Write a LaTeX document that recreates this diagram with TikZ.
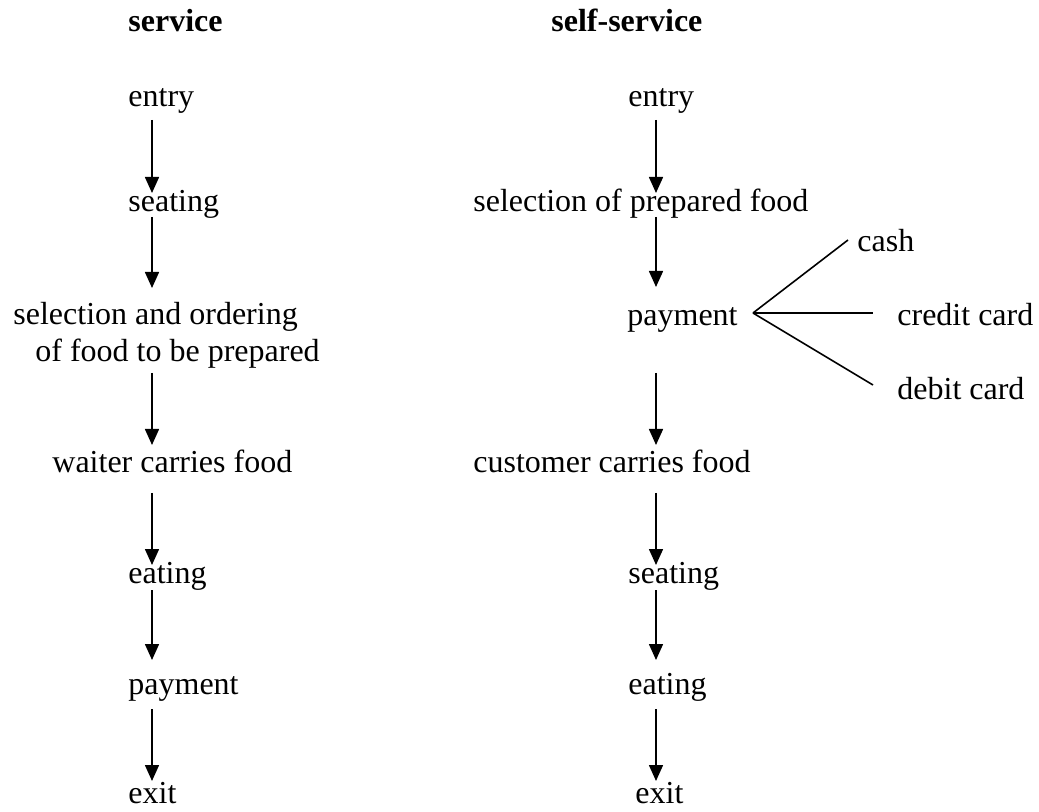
\documentclass[tikz,border=0pt]{standalone}
\usepackage{fontspec}
\setmainfont{Liberation Serif}
\usetikzlibrary{arrows.meta,calc}
\begin{document}
\begin{tikzpicture}[x=0.5pt, y=-0.5pt,
    txt/.style={inner sep=0pt, anchor=base west, font=\fontsize{16}{18.5}\selectfont},
    head/.style={txt, font=\fontsize{16}{18.5}\selectfont\bfseries},
    flow/.style={draw, line width=0.8pt, -{Triangle[length=8pt, width=7pt]}},
    branch/.style={draw, line width=0.8pt}]
    \useasboundingbox (0,0) rectangle (1039,812);
    \coordinate (colA) at (152,0);
    \coordinate (colB) at (656,0);
    % service
    \node[head] (servA) at (128,32) {service};
    \node[txt] (entA) at (128,107) {entry};
    \node[txt] (seaA) at (128,212) {seating};
    \node[txt, align=left] (selA) at (13,362) {selection and ordering\\\hspace*{11pt}of food to be prepared};
    \node[txt] (waitA) at (52,473) {waiter carries food};
    \node[txt] (eatA) at (128,583) {eating};
    \node[txt] (payA) at (128,694) {payment};
    \node[txt] (exitA) at (128,803) {exit};
    % self-service
    \node[head] (servB) at (551,32) {self-service};
    \node[txt] (entB) at (628,107) {entry};
    \node[txt] (selB) at (473,212) {selection of prepared food};
    \node[txt] (payB) at (627,326) {payment};
    \node[txt] (cash) at (857,252) {cash};
    \node[txt] (credit) at (897,326) {credit card};
    \node[txt] (debit) at (897,400) {debit card};
    \node[txt] (custB) at (473,473) {customer carries food};
    \node[txt] (seaB) at (628,583) {seating};
    \node[txt] (eatB) at (628,694) {eating};
    \node[txt] (exitB) at (635,803) {exit};
    % arrows, service
    \draw[flow] ($(entA.base -| colA)+(0,13)$) -- ($(seaA.base -| colA)+(0,-19)$);
    \draw[flow] ($(seaA.base -| colA)+(0,5)$) -- ($(selA.base -| colA)+(0,-74)$);
    \draw[flow] ($(selA.base -| colA)+(0,11)$) -- ($(waitA.base -| colA)+(0,-28)$);
    \draw[flow] ($(waitA.base -| colA)+(0,20)$) -- ($(eatA.base -| colA)+(0,-18)$);
    \draw[flow] ($(eatA.base -| colA)+(0,7)$) -- ($(payA.base -| colA)+(0,-34)$);
    \draw[flow] ($(payA.base -| colA)+(0,15)$) -- ($(exitA.base -| colA)+(0,-22)$);
    % arrows, self-service
    \draw[flow] ($(entB.base -| colB)+(0,13)$) -- ($(selB.base -| colB)+(0,-19)$);
    \draw[flow] ($(selB.base -| colB)+(0,5)$) -- ($(payB.base -| colB)+(0,-39)$);
    \draw[flow] ($(payB.base -| colB)+(0,47)$) -- ($(custB.base -| colB)+(0,-28)$);
    \draw[flow] ($(custB.base -| colB)+(0,20)$) -- ($(seaB.base -| colB)+(0,-18)$);
    \draw[flow] ($(seaB.base -| colB)+(0,7)$) -- ($(eatB.base -| colB)+(0,-34)$);
    \draw[flow] ($(eatB.base -| colB)+(0,15)$) -- ($(exitB.base -| colB)+(0,-22)$);
    % ways to pay
    \coordinate (fork) at ($(payB.base east)+(15,-13)$);
    \draw[branch] (fork) -- ($(cash.base west)+(-9,-12)$);
    \draw[branch] (fork) -- ($(credit.base west)+(-24,-13)$);
    \draw[branch] (fork) -- ($(debit.base west)+(-24,-15)$);
\end{tikzpicture}
\end{document}
